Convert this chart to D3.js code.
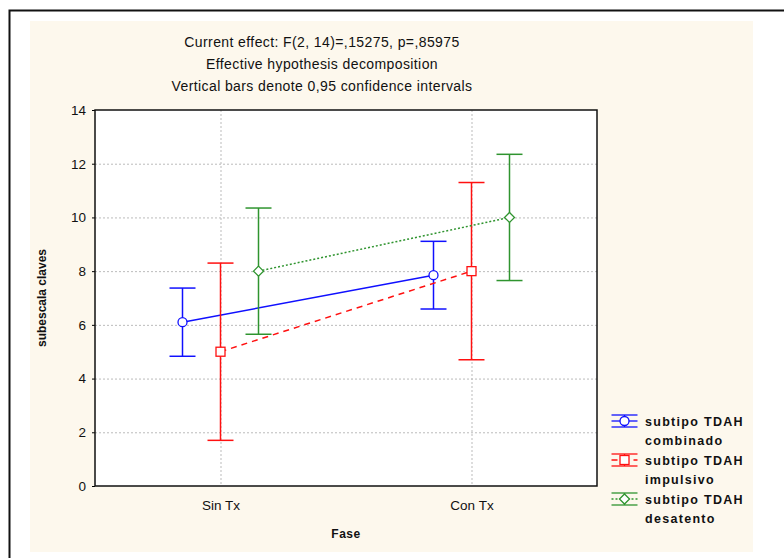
<!DOCTYPE html>
<html>
<head>
<meta charset="utf-8">
<script src="https://cdn.jsdelivr.net/npm/d3@7"></script>
<style>
  body { margin: 0; background: #fff; }
  text { font-family: "Liberation Sans", Arial, sans-serif; }
</style>
</head>
<body>
<div id="plot"></div>
<script>
// chart data
const categories = ["Sin Tx", "Con Tx"];
const seriesNames = ["combinado", "impulsivo", "desatento"];
const meansComb = [6.1, 7.85];
const lowComb = [4.83, 6.59];
const highComb = [7.37, 9.11];
const meansImp = [5.0, 8.0];
const lowImp = [1.7, 4.7];
const highImp = [8.3, 11.3];
const meansDes = [8.0, 10.0];
const lowDes = [5.65, 7.65];
const highDes = [10.35, 12.35];
const yTicks = [0, 2, 4, 6, 8, 10, 12, 14];
const titleLines = [
  "Current effect: F(2, 14)=,15275, p=,85975",
  "Effective hypothesis decomposition",
  "Vertical bars denote 0,95 confidence intervals"
];

const w = 784;
const h = 558;
const margin = {top: 110, right: 187, bottom: 72, left: 95};

const series = [
  {name: "subtipo TDAH", sub: seriesNames[0], mean: meansComb, lo: lowComb, hi: highComb,
   color: "#1010ff", dash: null, shape: "circle"},
  {name: "subtipo TDAH", sub: seriesNames[1], mean: meansImp, lo: lowImp, hi: highImp,
   color: "#ff1010", dash: "6,5", shape: "square"},
  {name: "subtipo TDAH", sub: seriesNames[2], mean: meansDes, lo: lowDes, hi: highDes,
   color: "#2f942f", dash: "2,2", shape: "diamond"}
];

const svg = d3.select("#plot")
  .append("svg")
    .attr("width", w)
    .attr("height", h);

// outer frame and cream panel
svg.append("rect")
    .attr("x", 0).attr("y", 0).attr("width", w).attr("height", h)
    .attr("fill", "#fff");
svg.append("path")
    .attr("d", `M9.5,${h} V10.5 H${w}`)
    .attr("fill", "none")
    .attr("stroke", "#111")
    .attr("stroke-width", 2);
svg.append("rect")
    .attr("x", 30).attr("y", 21).attr("width", 723).attr("height", 531)
    .attr("fill", "#fdf8ed");

const x0 = margin.left, x1 = w - margin.right;

const x = d3.scalePoint()
    .domain(categories)
    .range([x0, x1])
    .padding(0.5);

const offset = d3.scalePoint()
    .domain(seriesNames)
    .range([-38, 38]);

const y = d3.scaleLinear()
    .domain([0, 14])
    .range([486, 110]);

// plot background
svg.append("rect")
    .attr("x", x0).attr("y", y(14))
    .attr("width", x1 - x0).attr("height", y(0) - y(14))
    .attr("fill", "#fff");

// grid
const grid = svg.append("g").attr("class", "grid");
grid.selectAll("line.h")
  .data(yTicks.filter(t => t > 0 && t < 14))
  .enter().append("line")
    .attr("x1", x0).attr("x2", x1)
    .attr("y1", d => y(d) + 0.5).attr("y2", d => y(d) + 0.5)
    .attr("stroke", "#bbb")
    .attr("stroke-dasharray", "2,2");
grid.selectAll("line.v")
  .data(categories)
  .enter().append("line")
    .attr("x1", d => x(d) + 0.5).attr("x2", d => x(d) + 0.5)
    .attr("y1", y(14)).attr("y2", y(0))
    .attr("stroke", "#bbb")
    .attr("stroke-dasharray", "2,2");

// axes
const yAxis = d3.axisLeft(y)
    .tickValues(yTicks)
    .tickSize(3)
    .tickPadding(6);
const gy = svg.append("g")
    .attr("transform", `translate(${x0},0)`)
    .call(yAxis);
gy.select(".domain").remove();
gy.selectAll("text")
    .attr("font-size", 13.5)
    .attr("font-family", "Liberation Sans, Arial, sans-serif")
    .attr("fill", "#111");

const xAxis = d3.axisBottom(x).tickSize(0).tickPadding(14);
const gx = svg.append("g")
    .attr("transform", `translate(0,${y(0)})`)
    .call(xAxis);
gx.select(".domain").remove();
gx.selectAll("text")
    .attr("font-size", 13.5)
    .attr("font-family", "Liberation Sans, Arial, sans-serif")
    .attr("fill", "#111");

// plot frame
svg.append("rect")
    .attr("x", x0).attr("y", y(14))
    .attr("width", x1 - x0).attr("height", y(0) - y(14))
    .attr("fill", "none")
    .attr("stroke", "#111")
    .attr("stroke-width", 1.5);

// axis titles
svg.append("text")
    .attr("transform", `translate(46,${(y(0) + y(14)) / 2}) rotate(-90)`)
    .attr("text-anchor", "middle")
    .attr("font-size", 12)
    .attr("font-weight", "bold")
    .attr("fill", "#111")
    .text("subescala claves");
svg.append("text")
    .attr("x", (x0 + x1) / 2)
    .attr("y", 538)
    .attr("text-anchor", "middle")
    .attr("font-size", 12)
    .attr("font-weight", "bold")
    .attr("letter-spacing", 0.5)
    .attr("fill", "#111")
    .text("Fase");

// title lines
svg.selectAll("text.title")
  .data(titleLines)
  .enter().append("text")
    .attr("class", "title")
    .attr("x", 322)
    .attr("y", (d, i) => 47 + i * 22)
    .attr("text-anchor", "middle")
    .attr("font-size", 14)
    .attr("letter-spacing", 0.4)
    .attr("fill", "#111")
    .text(d => d);

// marker drawing helper
function marker(g, shape, cx, cy, color) {
  if (shape === "circle") {
    g.append("circle").attr("cx", cx).attr("cy", cy).attr("r", 4.5)
      .attr("fill", "#fff").attr("stroke", color).attr("stroke-width", 1.3);
  } else if (shape === "square") {
    g.append("rect").attr("x", cx - 4.5).attr("y", cy - 4.5)
      .attr("width", 9).attr("height", 9)
      .attr("fill", "#fff").attr("stroke", color).attr("stroke-width", 1.3);
  } else {
    g.append("path")
      .attr("d", `M${cx},${cy - 5} L${cx + 5},${cy} L${cx},${cy + 5} L${cx - 5},${cy} Z`)
      .attr("fill", "#fff").attr("stroke", color).attr("stroke-width", 1.3);
  }
}

const cap = 13;
const line = d3.line().x(d => d[0]).y(d => d[1]);

series.forEach(s => {
  const g = svg.append("g");
  const pts = categories.map((c, i) => [x(c) + offset(s.sub), y(s.mean[i])]);
  // error bars
  categories.forEach((c, i) => {
    const cx = x(c) + offset(s.sub);
    g.append("line")
      .attr("x1", cx).attr("x2", cx)
      .attr("y1", y(s.lo[i])).attr("y2", y(s.hi[i]))
      .attr("stroke", s.color).attr("stroke-width", 1.5);
    [s.lo[i], s.hi[i]].forEach(v => {
      g.append("line")
        .attr("x1", cx - cap).attr("x2", cx + cap)
        .attr("y1", y(v)).attr("y2", y(v))
        .attr("stroke", s.color).attr("stroke-width", 1.5);
    });
  });
  // connecting line
  g.append("path")
    .attr("d", line(pts))
    .attr("fill", "none")
    .attr("stroke", s.color)
    .attr("stroke-width", 1.5)
    .attr("stroke-dasharray", s.dash);
  pts.forEach(p => marker(g, s.shape, p[0], p[1], s.color));
});

// legend
const legend = svg.append("g");
series.forEach((s, i) => {
  const cy = 421 + i * 39;
  const lx = 624.5;
  const g = legend.append("g");
  g.append("line").attr("x1", lx - 13).attr("x2", lx + 13)
    .attr("y1", cy).attr("y2", cy)
    .attr("stroke", s.color).attr("stroke-width", 1.3)
    .attr("stroke-dasharray", s.dash);
  g.append("line").attr("x1", lx).attr("x2", lx)
    .attr("y1", cy - 6).attr("y2", cy + 6)
    .attr("stroke", s.color).attr("stroke-width", 1.3);
  [cy - 6, cy + 6].forEach(v => {
    g.append("line").attr("x1", lx - 13).attr("x2", lx + 13)
      .attr("y1", v).attr("y2", v)
      .attr("stroke", s.color).attr("stroke-width", 1.3);
  });
  marker(g, s.shape, lx, cy, s.color);
  g.append("text")
    .attr("x", 645).attr("y", cy + 4.5)
    .attr("font-size", 12.5).attr("font-weight", "bold")
    .attr("letter-spacing", 1.3)
    .attr("fill", "#111")
    .text(s.name);
  g.append("text")
    .attr("x", 645).attr("y", cy + 24)
    .attr("font-size", 12.5).attr("font-weight", "bold")
    .attr("letter-spacing", 1.3)
    .attr("fill", "#111")
    .text(s.sub);
});
</script>
</body>
</html>
